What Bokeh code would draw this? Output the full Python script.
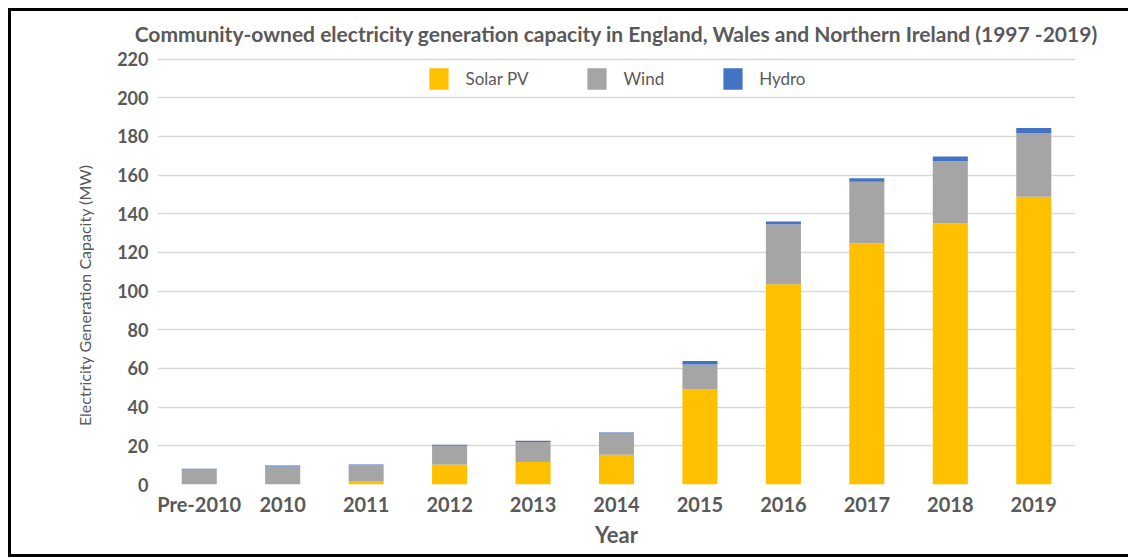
from bokeh.plotting import figure
from bokeh.models import FactorRange, Legend, LegendItem, SingleIntervalTicker
from bokeh.embed import file_html
from bokeh.resources import INLINE

years = ["Pre-2010", "2010", "2011", "2012", "2013", "2014", "2015", "2016", "2017", "2018", "2019"]
solar = [0, 0, 1.8, 10.4, 11.6, 15.4, 49.1, 103.5, 124.7, 135.0, 148.8]
wind = [7.7, 9.3, 8.1, 9.7, 10.4, 11.0, 12.9, 31.1, 31.9, 32.1, 33.0]
hydro = [0.4, 0.5, 0.5, 0.5, 0.6, 0.5, 1.9, 1.4, 1.8, 2.5, 2.6]
series = ["Solar PV", "Wind", "Hydro"]
colors = ["#FFC000", "#A5A5A5", "#4472C4"]

TXT = "#595959"
FONT = "Lato"

data = {"year": years, "Solar PV": solar, "Wind": wind, "Hydro": hydro}

# frame top sits above the 200 line so the legend fits inside the plot area
p = figure(x_range=FactorRange(*years, range_padding=0), y_range=(0, 223.4),
           width=1120, height=549, output_backend="svg", toolbar_location=None,
           min_border_left=146, min_border_right=56, min_border_top=34, min_border_bottom=76)
p.styles = {"transform": "translate(8px, 8px)",
            "border-left": "3px solid black", "border-top": "3px solid black",
            "border-bottom": "3px solid black"}

rs = p.vbar_stack(series, x="year", width=0.42, color=colors, line_color=None, source=data)

p.title.text = "Community-owned electricity generation capacity in England, Wales and Northern Ireland (1997 -2019)"
p.title.align = "center"
p.title.standoff = 14
p.title.text_font = FONT
p.title.text_font_size = "21px"
p.title.text_font_style = "bold"
p.title.text_color = TXT

p.outline_line_color = None
p.xgrid.grid_line_color = None
p.ygrid.grid_line_color = "#d9d9d9"
p.ygrid.grid_line_width = 1.5
p.yaxis.ticker = SingleIntervalTicker(interval=20)

for ax in (p.xaxis[0], p.yaxis[0]):
    ax.axis_line_color = None
    ax.major_tick_line_color = None
    ax.minor_tick_line_color = None
    ax.major_label_text_font = FONT
    ax.major_label_text_font_style = "bold"
    ax.major_label_text_color = TXT
    ax.axis_label_text_font = FONT
    ax.axis_label_text_color = TXT

p.yaxis.major_label_text_font_size = "18px"
p.xaxis.major_label_text_font_size = "20px"
p.yaxis.major_label_standoff = 3
p.xaxis.major_label_standoff = 1
p.xaxis.axis_label = "Year"
p.xaxis.axis_label_text_font_size = "22px"
p.xaxis.axis_label_text_font_style = "bold"
p.xaxis.axis_label_standoff = 2
# trailing no-break spaces centre the visible title on the 0-200 band
p.yaxis.axis_label = "Electricity Generation Capacity (MW)" + "\u00a0" * 13
p.yaxis.axis_label_text_font_size = "16px"
p.yaxis.axis_label_text_font_style = "normal"
p.yaxis.axis_label_standoff = 20

legend = Legend(items=[LegendItem(label=n, renderers=[r]) for n, r in zip(series, rs)],
                location="top_center", orientation="horizontal", spacing=56,
                glyph_width=24, glyph_height=27, label_standoff=15,
                label_text_font=FONT, label_text_font_size="17px", label_text_color=TXT,
                padding=0, margin=13, border_line_color=None, background_fill_alpha=0)
p.add_layout(legend, "center")

open("out.html", "w").write(file_html(p, INLINE))
